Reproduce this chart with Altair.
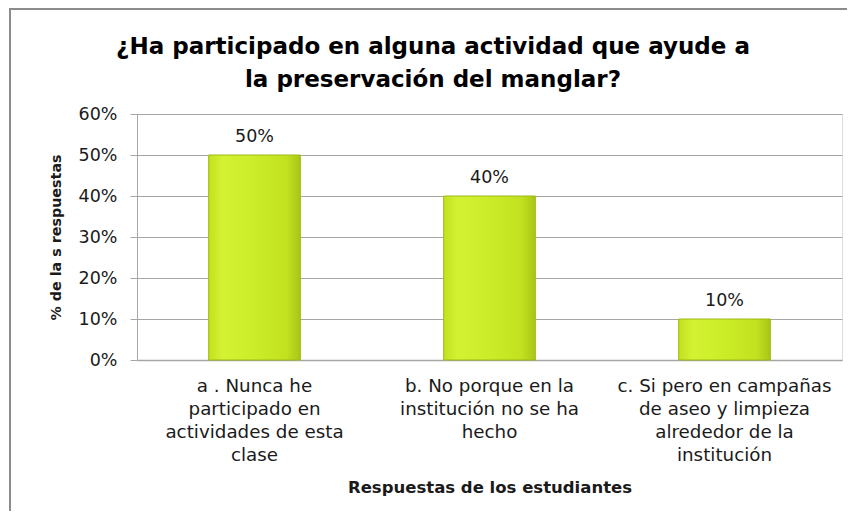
import altair as alt
import pandas as pd

categories = [
    "a . Nunca he\nparticipado en\nactividades de esta\nclase",
    "b. No porque en la\ninstitución no se ha\nhecho",
    "c.  Si pero en campañas\nde aseo y limpieza\nalrededor de la\ninstitución",
]
values = [0.50, 0.40, 0.10]
value_labels = ["50%", "40%", "10%"]

title_lines = ["¿Ha participado en alguna actividad que ayude a", "la preservación del manglar?"]
y_title = "% de la s respuestas"
x_title = "Respuestas de los estudiantes"

df = pd.DataFrame({"cat": categories, "val": values, "lbl": value_labels})

FONT = "DejaVu Sans"
TXT = "#1a1a1a"
GRID = "#a6a6a6"

x_enc = alt.X(
    "cat:N",
    sort=categories,
    scale=alt.Scale(paddingInner=0.61, paddingOuter=0.305),
    axis=alt.Axis(
        title=x_title,
        labelAngle=0,
        labelExpr="split(datum.label, '\\n')",
        labelFontSize=18.3,
        labelLineHeight=23.3,
        labelPadding=17,
        labelLimit=400,
        labelColor=TXT,
        labelFont=FONT,
        ticks=False,
        domainColor=GRID,
        domainWidth=1.5,
        titleFont=FONT,
        titleFontSize=16.5,
        titleFontWeight="bold",
        titleColor=TXT,
        titlePadding=15,
    ),
)

y_enc = alt.Y(
    "val:Q",
    scale=alt.Scale(domain=[0, 0.6]),
    axis=alt.Axis(
        title=y_title,
        format=".0%",
        values=[0, 0.1, 0.2, 0.3, 0.4, 0.5, 0.6],
        labelFontSize=17.5,
        labelFont=FONT,
        labelColor=TXT,
        labelPadding=13,
        tickSize=7,
        tickColor=GRID,
        domainColor=GRID,
        gridColor=GRID,
        gridWidth=1,
        titleFont=FONT,
        titleFontSize=14.3,
        titleFontWeight="bold",
        titleColor=TXT,
        titlePadding=15,
    ),
)

bar_fill = alt.Gradient(
    gradient="linear",
    x1=0, x2=1, y1=0, y2=0,
    stops=[
        alt.GradientStop(color="#c4e01e", offset=0),
        alt.GradientStop(color="#d3f233", offset=0.15),
        alt.GradientStop(color="#cbed28", offset=0.5),
        alt.GradientStop(color="#c2e11f", offset=0.85),
        alt.GradientStop(color="#a9c516", offset=1),
    ],
)

bars = alt.Chart(df).mark_bar(color=bar_fill, stroke="#9fb816", strokeWidth=1).encode(
    x=x_enc, y=y_enc
)

texts = alt.Chart(df).mark_text(
    baseline="bottom", dy=-9, fontSize=17.5, font=FONT, color=TXT
).encode(
    x=alt.X("cat:N", sort=categories),
    y="val:Q",
    text="lbl:N",
)

frame = alt.Chart(df).mark_rect(
    fill=None, stroke="#8c8c8c", strokeWidth=2
).encode(
    x=alt.value(-127), x2=alt.value(760), y=alt.value(-105), y2=alt.value(420)
)

title_mark = alt.Chart(pd.DataFrame({"t": [0]})).mark_text(
    text=title_lines,
    font=FONT,
    fontSize=23,
    fontWeight="bold",
    color="#000000",
    align="center",
    baseline="middle",
    lineHeight=33,
).encode(x=alt.value(296), y=alt.value(-67))

chart = alt.layer(bars, texts, frame, title_mark).properties(
    width=705,
    height=246,
    autosize=alt.AutoSizeParams(type="none"),
    padding={"left": 129, "top": 106, "right": 5, "bottom": 151},
).configure_view(stroke=None).configure(background="white")

chart.save("out.html", embed_options={"renderer": "svg", "actions": False})
